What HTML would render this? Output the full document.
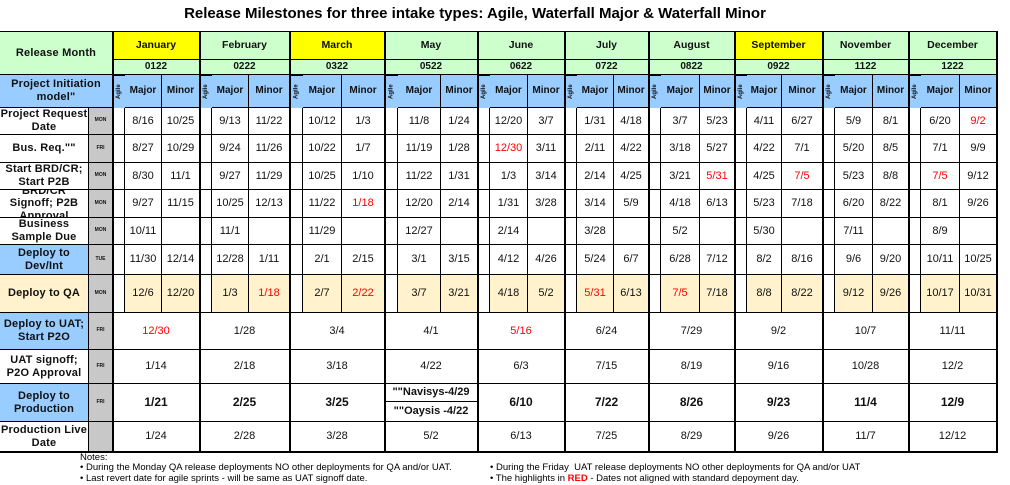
<!DOCTYPE html>
<html><head><meta charset="utf-8"><style>
body{margin:0;background:#fff;width:1010px;height:485px;overflow:hidden;position:relative;font-family:"Liberation Sans",Arial,sans-serif;}
.c{position:absolute;box-sizing:border-box;border-right:1px solid #000;border-bottom:1px solid #000;display:flex;align-items:center;justify-content:center;text-align:center;font-size:11px;color:#111;line-height:1.15;overflow:hidden;}
.b{font-weight:bold}
.lbl{font-size:11px;letter-spacing:0.2px}
.r{color:#f00}
#title{position:absolute;left:0;width:950px;top:5px;text-align:center;font-weight:bold;font-size:15px;}
.note{position:absolute;font-size:9.5px;white-space:nowrap;}
</style></head><body>
<div id="title">Release Milestones for three intake types: Agile, Waterfall Major &amp; Waterfall Minor</div>
<div id="t"></div>
<div class="note" style="left:80px;top:452px">Notes:</div>
<div class="note" style="left:80px;top:462px">• During the Monday QA release deployments NO other deployments for QA and/or UAT.</div>
<div class="note" style="left:80px;top:473px">• Last revert date for agile sprints - will be same as UAT signoff date.</div>
<div class="note" style="left:490px;top:462px">• During the Friday&nbsp; UAT release deployments NO other deployments for QA and/or UAT</div>
<div class="note" style="left:490px;top:473px">• The highlights in <span style="color:#f00;font-weight:bold">RED</span> - Dates not aligned with standard depoyment day.</div>
<script>
const months=["January","February","March","May","June","July","August","September","November","December"];
const codes=["0122","0222","0322","0522","0622","0722","0822","0922","1122","1222"];
const yellow=[1,0,1,0,0,0,0,1,0,0];
const rowLabels=["Project Request Date","Bus. Req.\"\"","Start BRD/CR; Start P2B","BRD/CR Signoff; P2B Approval","Business Sample Due","Deploy to Dev/Int","Deploy to QA","Deploy to UAT; Start P2O","UAT signoff; P2O Approval","Deploy to Production","Production Live Date"];
const days=["MON","FRI","MON","MON","MON","TUE","MON","FRI","FRI","FRI",""];
const prd=[["8/16","10/25"],["9/13","11/22"],["10/12","1/3"],["11/8","1/24"],["12/20","3/7"],["1/31","4/18"],["3/7","5/23"],["4/11","6/27"],["5/9","8/1"],["6/20","*9/2"]];
const busReq=[["8/27","10/29"],["9/24","11/26"],["10/22","1/7"],["11/19","1/28"],["*12/30","3/11"],["2/11","4/22"],["3/18","5/27"],["4/22","7/1"],["5/20","8/5"],["7/1","9/9"]];
const brd=[["8/30","11/1"],["9/27","11/29"],["10/25","1/10"],["11/22","1/31"],["1/3","3/14"],["2/14","4/25"],["3/21","*5/31"],["4/25","*7/5"],["5/23","8/8"],["*7/5","9/12"]];
const signoff=[["9/27","11/15"],["10/25","12/13"],["11/22","*1/18"],["12/20","2/14"],["1/31","3/28"],["3/14","5/9"],["4/18","6/13"],["5/23","7/18"],["6/20","8/22"],["8/1","9/26"]];
const sample=[["10/11",""],["11/1",""],["11/29",""],["12/27",""],["2/14",""],["3/28",""],["5/2",""],["5/30",""],["7/11",""],["8/9",""]];
const dev=[["11/30","12/14"],["12/28","1/11"],["2/1","2/15"],["3/1","3/15"],["4/12","4/26"],["5/24","6/7"],["6/28","7/12"],["8/2","8/16"],["9/6","9/20"],["10/11","10/25"]];
const qa=[["12/6","12/20"],["1/3","*1/18"],["2/7","*2/22"],["3/7","3/21"],["4/18","5/2"],["*5/31","6/13"],["*7/5","7/18"],["8/8","8/22"],["9/12","9/26"],["10/17","10/31"]];
const uat=["*12/30","1/28","3/4","4/1","*5/16","6/24","7/29","9/2","10/7","11/11"];
const uatSign=["1/14","2/18","3/18","4/22","6/3","7/15","8/19","9/16","10/28","12/2"];
const prod=["1/21","2/25","3/25","","6/10","7/22","8/26","9/23","11/4","12/9"];
const live=["1/24","2/28","3/28","5/2","6/13","7/25","8/29","9/26","11/7","12/12"];

const mx=[113,200,290,385,478,565,649,735,823,909,997];
const ag=[12,12,13,13,12,12,12,12,12,12];
const maj=[37,37,39,43,38,37,39,35,38,39];
const ry=[108,135,163,190,218,245,275,313,350,384,422,452];
const T=document.getElementById('t');
function cell(x,y,w,h,txt,bg,cls,name,inter){
  const d=document.createElement('div');d.className='c '+(cls||'');
  d.style.cssText=`left:${x}px;top:${y}px;width:${w}px;height:${h}px;background:${bg||'#fff'}`;
  let t=txt||'';if(t[0]==='*'){t=t.slice(1);d.classList.add('r');}
  d.textContent=t;
  
  
  T.appendChild(d);return d;}
const f=document.createElement('div');f.style.cssText='position:absolute;left:0;top:31px;width:998px;height:422px;border-top:2px solid #000;border-left:1px solid #000;box-sizing:border-box';
T.appendChild(f);
cell(0,32,113,43,'Release Month','#CCFFCC','b lbl','release-month-header');
cell(0,75,113,33,'Project Initiation model"','#99CCFF','b lbl','initiation-model-header');
const G='#CCFFCC',B='#99CCFF',Q='#FFF2CC';
const rowsMM=[prd,busReq,brd,signoff,sample,dev,qa];
rowLabels.forEach((l,i)=>{
  const h=ry[i+1]-ry[i];
  const bg=(i==5||i==7||i==9)?B:(i==6?Q:'#fff');
  cell(0,ry[i],89,h,l,bg,'b lbl','row-label-'+i);
  const dc=cell(89,ry[i],24,h,days[i],'#C8C8C8','b','day-'+i);dc.style.fontSize='5px';
});
months.forEach((m,k)=>{
  const x=mx[k],w=mx[k+1]-x;
  const mh=cell(x,32,w,28,m,yellow[k]?'#FFFF00':G,'b','month-'+m.toLowerCase());mh.style.fontSize='10.5px';
  const ch=cell(x,60,w,15,codes[k],G,'b','code-'+codes[k]);ch.style.fontSize='10px';
  const a=cell(x,75,ag[k],33,'Agile',B,'b','agile-header');a.style.fontSize='6px';a.style.writingMode='vertical-rl';a.style.transform='rotate(180deg)';
  const xM=x+ag[k],xm=xM+maj[k],wm=mx[k+1]-xm;
  const h1=cell(xM,75,maj[k],33,'Major',B,'b','major-header');h1.style.fontSize='10px';
  const h2=cell(xm,75,wm,33,'Minor',B,'b','minor-header');h2.style.fontSize='10px';
  rowsMM.forEach((arr,i)=>{
    const h=ry[i+1]-ry[i],bg=i==6?Q:'#fff';
    cell(x,ry[i],ag[k],h,'','#fff','','agile-cell');
    cell(xM,ry[i],maj[k],h,arr[k][0],bg,'','major-'+i+'-'+k);
    cell(xm,ry[i],wm,h,arr[k][1],bg,'','minor-'+i+'-'+k);
  });
  cell(x,ry[7],w,ry[8]-ry[7],uat[k],'#fff','','uat-'+k);
  cell(x,ry[8],w,ry[9]-ry[8],uatSign[k],'#fff','','uat-signoff-'+k);
  if(k==3){
    cell(x,ry[9],w,18,'""Navisys-4/29','#fff','b','prod-navisys');
    cell(x,ry[9]+18,w,ry[10]-ry[9]-18,'""Oaysis -4/22','#fff','b','prod-oaysis');
  } else { const p=cell(x,ry[9],w,ry[10]-ry[9],prod[k],'#fff','b','prod-'+k);p.style.fontSize='12px'; }
  cell(x,ry[10],w,ry[11]-ry[10],live[k],'#fff','','live-'+k);
});
mx.forEach((x,k)=>{const s=document.createElement('div');s.style.cssText=`position:absolute;left:${x-1}px;top:32px;width:2px;height:421px;background:#000`;
T.appendChild(s);});
const bl=document.createElement('div');bl.style.cssText='position:absolute;left:0;top:451px;width:998px;height:2px;background:#000';
T.appendChild(bl);
</script>
</body></html>
